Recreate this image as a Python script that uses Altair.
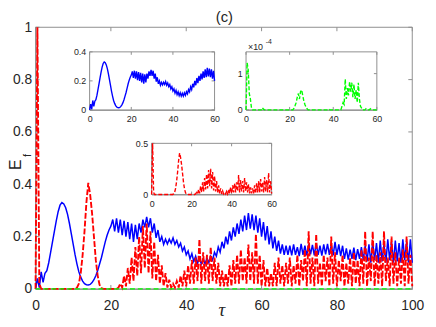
import altair as alt
import pandas as pd

FONT = "Liberation Sans"
SERIF = "Liberation Serif"
BLUE = "#0000ff"
RED = "#ff0000"
GREEN = "#00ff00"
AXC = "#8f8f8f"
TXT = "#262626"

W, H = 383, 266

# ---- data, sampled every 0.5 in tau (0 .. 100) ----
blue = [
    0.0, 0.04, 0.005, 0.065, 0.025, 0.06, 0.07, 0.1, 0.14, 0.18,
    0.22, 0.26, 0.295, 0.32, 0.33, 0.325, 0.31, 0.285, 0.25, 0.21,
    0.17, 0.13, 0.095, 0.065, 0.045, 0.03, 0.02, 0.016, 0.015, 0.017,
    0.024, 0.035, 0.05, 0.07, 0.095, 0.12, 0.15, 0.18, 0.205, 0.225,
    0.24, 0.265, 0.22, 0.27, 0.215, 0.265, 0.205, 0.26, 0.2, 0.255,
    0.19, 0.25, 0.18, 0.245, 0.19, 0.25, 0.215, 0.265, 0.235, 0.275,
    0.235, 0.27, 0.215, 0.25, 0.195, 0.225, 0.18, 0.2, 0.17, 0.19,
    0.172, 0.19, 0.175, 0.195, 0.17, 0.185, 0.16, 0.175, 0.145, 0.16,
    0.13, 0.145, 0.115, 0.135, 0.105, 0.125, 0.098, 0.118, 0.095, 0.115,
    0.095, 0.118, 0.1, 0.125, 0.11, 0.14, 0.125, 0.16, 0.14, 0.18,
    0.155, 0.2, 0.17, 0.22, 0.185, 0.235, 0.2, 0.25, 0.21, 0.265,
    0.22, 0.28, 0.225, 0.29, 0.23, 0.285, 0.225, 0.28, 0.215, 0.27,
    0.2, 0.255, 0.185, 0.24, 0.17, 0.22, 0.155, 0.2, 0.145, 0.185,
    0.135, 0.17, 0.13, 0.165, 0.13, 0.165, 0.128, 0.17, 0.13, 0.16,
    0.125, 0.172, 0.13, 0.165, 0.128, 0.17, 0.132, 0.168, 0.128, 0.175,
    0.13, 0.165, 0.127, 0.17, 0.132, 0.172, 0.13, 0.168, 0.128, 0.18,
    0.13, 0.17, 0.125, 0.165, 0.115, 0.155, 0.112, 0.15, 0.115, 0.158,
    0.11, 0.152, 0.115, 0.16, 0.11, 0.165, 0.105, 0.17, 0.1, 0.18,
    0.11, 0.175, 0.1, 0.185, 0.105, 0.17, 0.1, 0.19, 0.11, 0.18,
    0.1, 0.185, 0.105, 0.175, 0.1, 0.19, 0.11, 0.18, 0.1, 0.19,
    0.1,
]

red = [
    0.0, 1.0, 0.02, 0.0, 0.0, 0.0, 0.0, 0.0, 0.0, 0.0,
    0.0, 0.0, 0.0, 0.0, 0.0, 0.0, 0.0, 0.0, 0.0, 0.0,
    0.0, 0.0, 0.005, 0.02, 0.06, 0.13, 0.22, 0.33, 0.405, 0.36,
    0.29, 0.2, 0.11, 0.05, 0.015, 0.003, 0.0, 0.0, 0.0, 0.0,
    0.0, 0.0, 0.0, 0.0, 0.005, 0.02, 0.005, 0.05, 0.01, 0.08,
    0.02, 0.12, 0.03, 0.16, 0.05, 0.2, 0.06, 0.24, 0.08, 0.25,
    0.06, 0.22, 0.04, 0.18, 0.03, 0.13, 0.02, 0.09, 0.01, 0.06,
    0.005, 0.035, 0.005, 0.02, 0.005, 0.03, 0.005, 0.05, 0.01, 0.07,
    0.01, 0.09, 0.02, 0.11, 0.02, 0.12, 0.03, 0.19, 0.02, 0.14,
    0.03, 0.13, 0.02, 0.16, 0.03, 0.12, 0.02, 0.1, 0.01, 0.07,
    0.01, 0.06, 0.01, 0.09, 0.01, 0.11, 0.02, 0.13, 0.02, 0.15,
    0.03, 0.12, 0.02, 0.17, 0.03, 0.14, 0.02, 0.21, 0.02, 0.13,
    0.01, 0.11, 0.01, 0.08, 0.01, 0.06, 0.01, 0.1, 0.01, 0.12,
    0.02, 0.09, 0.01, 0.1, 0.02, 0.12, 0.01, 0.09, 0.02, 0.13,
    0.01, 0.11, 0.03, 0.15, 0.01, 0.22, 0.02, 0.12, 0.01, 0.21,
    0.02, 0.1, 0.01, 0.13, 0.03, 0.12, 0.01, 0.2, 0.02, 0.14,
    0.01, 0.11, 0.03, 0.13, 0.01, 0.1, 0.02, 0.12, 0.01, 0.14,
    0.02, 0.11, 0.01, 0.15, 0.02, 0.22, 0.01, 0.12, 0.03, 0.22,
    0.01, 0.13, 0.02, 0.14, 0.01, 0.22, 0.03, 0.12, 0.01, 0.2,
    0.02, 0.14, 0.01, 0.12, 0.02, 0.15, 0.01, 0.2, 0.02, 0.13,
    0.01,
]

# green values in units of 1e-4
green_e4 = [
    0.0, 1.3, 1.1, 0.45, 0.3, 0.05, 0.0, 0.0, 0.0, 0.0,
    0.0, 0.0, 0.0, 0.0, 0.0, 0.06, 0.02, 0.0, 0.0, 0.0,
    0.0, 0.0, 0.0, 0.0, 0.0, 0.0, 0.0, 0.0, 0.0, 0.0,
    0.0, 0.0, 0.0, 0.0, 0.0, 0.0, 0.0, 0.0, 0.0, 0.0,
    0.0, 0.0, 0.0, 0.0, 0.05, 0.12, 0.2, 0.35, 0.45, 0.3,
    0.5, 0.55, 0.4, 0.25, 0.15, 0.08, 0.03, 0.0, 0.0, 0.0,
    0.0, 0.0, 0.0, 0.0, 0.0, 0.0, 0.0, 0.0, 0.0, 0.0,
    0.0, 0.0, 0.0, 0.0, 0.0, 0.0, 0.02, 0.0, 0.0, 0.0,
    0.0, 0.0, 0.0, 0.0, 0.0, 0.0, 0.0, 0.0, 0.1, 0.2,
    0.15, 0.85, 0.3, 0.6, 0.4, 0.78, 0.5, 0.75, 0.35, 0.7,
    0.3, 0.55, 0.2, 0.75, 0.3, 0.1, 0.05, 0.0, 0.0, 0.0,
    0.03, 0.0, 0.0, 0.0, 0.03, 0.0, 0.0, 0.0, 0.0, 0.0,
    0.0, 0.0, 0.0, 0.0, 0.0, 0.0, 0.0, 0.0, 0.0, 0.0,
    0.0, 0.0, 0.0, 0.0, 0.0, 0.0, 0.0, 0.0, 0.0, 0.0,
    0.0, 0.0, 0.0, 0.0, 0.0, 0.0, 0.0, 0.0, 0.0, 0.0,
    0.0, 0.0, 0.0, 0.0, 0.0, 0.0, 0.0, 0.0, 0.0, 0.0,
    0.0, 0.0, 0.0, 0.0, 0.0, 0.0, 0.0, 0.0, 0.0, 0.0,
    0.0, 0.0, 0.0, 0.0, 0.0, 0.0, 0.0, 0.0, 0.0, 0.0,
    0.0, 0.0, 0.0, 0.0, 0.0, 0.0, 0.0, 0.0, 0.0, 0.0,
    0.0, 0.0, 0.0, 0.0, 0.0, 0.0, 0.0, 0.0, 0.0, 0.0,
    0.0,
]

main_xticks = [0, 20, 40, 60, 80, 100]
main_yticks = [0, 0.2, 0.4, 0.6, 0.8, 1]
inset_xticks = [0, 20, 40, 60]
inset_blue_yticks = [0, 0.2, 0.4]
inset_green_yticks = [0, 1]
inset_red_yticks = [0, 0.5]

n = len(blue)
assert n == 201 and len(red) == n and len(green_e4) == n
tau = [i * 0.5 for i in range(n)]
df = pd.DataFrame({"tau": tau, "blue": blue, "red": red, "green": green_e4})
one = pd.DataFrame({"k": [0]})


def axis_common(fs, pad):
    return dict(format=".6~g", ticks=False, tickSize=0, labelFontSize=fs, labelFont=FONT,
                labelColor=TXT, labelFlush=False, labelOverlap=False, labelPadding=pad,
                domainColor=AXC, domainWidth=1, grid=False)


def scales(xdom, ydom, xr, yr, clamp=False):
    xs = alt.Scale(domain=xdom, range=xr, nice=False, zero=False)
    ys = alt.Scale(domain=ydom, range=yr, nice=False, zero=False, clamp=clamp)
    return xs, ys


def frame_and_ticks(xs, ys, xa, ya, xdom, ydom, xvals, yvals, lx, ly, fill):
    fr = alt.Chart(one).mark_rect(
        fill=fill, fillOpacity=(1 if fill == "white" else 0), stroke=AXC, strokeWidth=1
    ).encode(
        x=alt.datum(xdom[0], type="quantitative", scale=xs, axis=xa),
        x2=alt.datum(xdom[1]),
        y=alt.datum(ydom[0], type="quantitative", scale=ys, axis=ya),
        y2=alt.datum(ydom[1]),
    )
    dx = alt.Chart(pd.DataFrame({"v": xvals})).mark_rule(color=AXC, strokeWidth=1)
    dy = alt.Chart(pd.DataFrame({"v": yvals})).mark_rule(color=AXC, strokeWidth=1)
    X = alt.X("v:Q", scale=xs, axis=xa)
    Y = alt.Y("v:Q", scale=ys, axis=ya)
    t = [
        dx.encode(x=X, y=alt.datum(ydom[0], type="quantitative", scale=ys, axis=ya), y2=alt.datum(ydom[0] + ly)),
        dx.encode(x=X, y=alt.datum(ydom[1], type="quantitative", scale=ys, axis=ya), y2=alt.datum(ydom[1] - ly)),
        dy.encode(y=Y, x=alt.datum(xdom[0], type="quantitative", scale=xs, axis=xa), x2=alt.datum(xdom[0] + lx)),
        dy.encode(y=Y, x=alt.datum(xdom[1], type="quantitative", scale=xs, axis=xa), x2=alt.datum(xdom[1] - lx)),
    ]
    return fr, t


def text(s, x, y, size, **kw):
    props = dict(text=s, fontSize=size, font=FONT, color=TXT)
    props.update(kw)
    return alt.Chart(one).mark_text(**props).encode(x=alt.value(x), y=alt.value(y))


# ---------------- main panel ----------------
mxs, mys = scales([0, 100], [0, 1], [0, W], [H, 0])
mxa = alt.Axis(orient="bottom", values=main_xticks, title="τ", titleFont=SERIF,
               titleFontStyle="italic", titleFontWeight="normal", titleFontSize=19,
               titleColor=TXT, titleX=189, titleY=27, titleBaseline="alphabetic",
               **axis_common(14, 10))
mya = alt.Axis(orient="left", values=main_yticks, title=None, **axis_common(14, 4))

mframe, mticks = frame_and_ticks(mxs, mys, mxa, mya, [0, 100], [0, 1], main_xticks,
                                 main_yticks, 4 * 100 / W, 4 / H, "none")

mx = alt.X("tau:Q", scale=mxs, axis=mxa)
main_blue = alt.Chart(df).mark_line(color=BLUE, strokeWidth=1.5).encode(
    x=mx, y=alt.Y("blue:Q", scale=mys, axis=mya))
main_red = alt.Chart(df).mark_line(color=RED, strokeWidth=1.9, strokeDash=[6, 2]).encode(
    x=mx, y=alt.Y("red:Q", scale=mys, axis=mya))
main_green = alt.Chart(df).transform_calculate(gv="datum.green * 1e-4").mark_line(
    color=GREEN, strokeWidth=1.3, strokeDash=[5, 3]).encode(
    x=mx, y=alt.Y("gv:Q", scale=mys, axis=mya))

title_c = text("(c)", 192, -5, 15, align="center", baseline="alphabetic")
lab_E = text("E", -15, 145, 16, angle=270, align="left", baseline="alphabetic")
lab_f = text("f", -5, 132, 11, angle=270, align="left", baseline="alphabetic")

main = alt.layer(mframe, *mticks, main_blue, main_red, main_green, title_c, lab_E, lab_f)


# ---------------- insets ----------------
def inset(field, xr, yr, ydom, yvals, color, dash, clamp=False, extra=()):
    xs, ys = scales([0, 60], ydom, xr, yr, clamp)
    xa = alt.Axis(orient="bottom", values=inset_xticks, title=None,
                  offset=-(H - yr[0]), **axis_common(9, 5))
    ya = alt.Axis(orient="left", values=yvals, title=None,
                  offset=-xr[0], **axis_common(9, 4))
    lx = 3 * 60 / (xr[1] - xr[0])
    ly = 3 * (ydom[1] - ydom[0]) / (yr[0] - yr[1])
    fr, tk = frame_and_ticks(xs, ys, xa, ya, [0, 60], ydom, inset_xticks, yvals, lx, ly, "white")
    mk = dict(color=color, strokeWidth=1.4)
    if dash:
        mk["strokeDash"] = [4, 2]
    ln = alt.Chart(df).transform_filter("datum.tau <= 60").mark_line(**mk).encode(
        x=alt.X("tau:Q", scale=xs, axis=xa), y=alt.Y(field + ":Q", scale=ys, axis=ya))
    return alt.layer(fr, *tk, ln, *extra)


in_blue = inset("blue", [55, 182], [84, 25], [0, 0.4], inset_blue_yticks, BLUE, False)
in_green = inset("green", [214, 347], [84, 25], [0, 1.6], inset_green_yticks, GREEN, True,
                 extra=(text("×10", 216, 23, 9, align="left", baseline="alphabetic"),
                        text("-4", 234, 17, 7, align="left", baseline="alphabetic")))
in_red = inset("red", [118, 240], [170, 118], [0, 0.5], inset_red_yticks, RED, True, clamp=True)

chart = alt.layer(main, in_blue, in_green, in_red).resolve_scale(
    x="independent", y="independent"
).properties(
    width=W, height=H,
    autosize=alt.AutoSizeParams(type="none"),
    padding={"left": 28, "top": 17, "right": 16, "bottom": 28},
).configure_view(stroke=None)

chart.save("out.html", embed_options={"renderer": "svg", "actions": False})
